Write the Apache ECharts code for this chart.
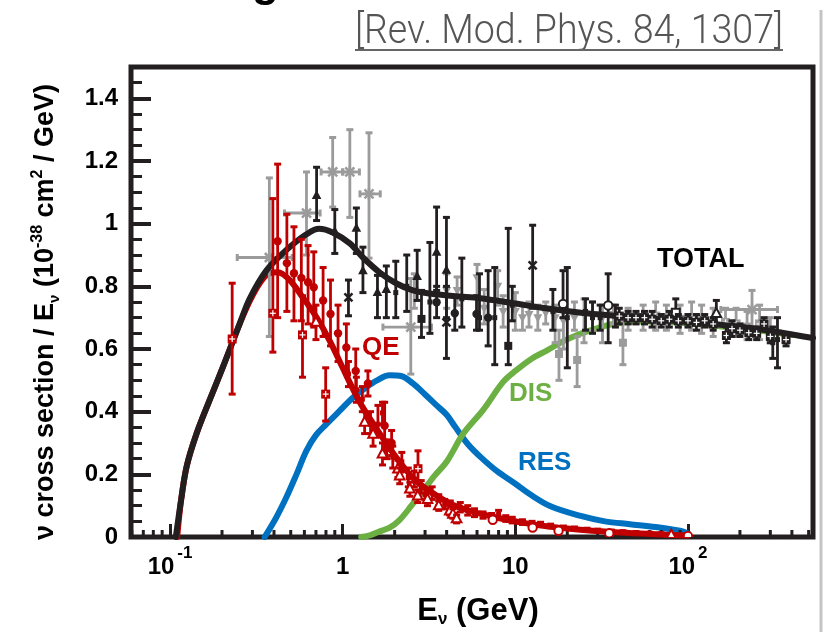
<!DOCTYPE html>
<html><head><meta charset="utf-8">
<script src="https://cdn.jsdelivr.net/npm/echarts@6/dist/echarts.min.js"></script>
<style>html,body{margin:0;padding:0;background:#fff}#c{width:825px;height:632px}</style>
</head><body><div id="c"></div>
<script>
// ---------- curves ----------
const totalE = [0.108,0.116,0.125,0.142,0.169,0.202,0.253,0.289,0.361,0.47,0.616,0.73,0.875,1.1,1.31,1.64,2.05,2.55,3.2,4.5,6.25,10,15,24,40,60,91,150,224,350,530];
const totalV = [0,0.12,0.227,0.328,0.435,0.541,0.68,0.76,0.85,0.915,0.966,0.984,0.972,0.937,0.892,0.844,0.809,0.787,0.777,0.768,0.762,0.745,0.73,0.716,0.705,0.697,0.69,0.678,0.668,0.652,0.635];
const qeE = [0.11,0.116,0.125,0.142,0.169,0.202,0.253,0.3,0.36,0.42,0.493,0.586,0.707,0.84,1.0,1.14,1.31,1.64,2.05,2.55,3.19,4.5,7.1,12.1,20.7,40,70,100];
const qeV = [0,0.12,0.227,0.328,0.435,0.541,0.68,0.77,0.835,0.845,0.82,0.765,0.70,0.627,0.54,0.475,0.413,0.33,0.253,0.189,0.147,0.099,0.067,0.042,0.026,0.014,0.008,0.005];
const resE = [0.353,0.41,0.471,0.54,0.616,0.70,0.804,0.95,1.148,1.35,1.57,1.87,2.2,2.55,3.0,3.5,4.0,4.5,5.3,6.3,7.8,10,12.1,16,23.6,33,46,65,90,100];
const resV = [0,0.06,0.126,0.2,0.275,0.325,0.36,0.40,0.445,0.475,0.499,0.516,0.513,0.49,0.455,0.42,0.39,0.35,0.297,0.255,0.211,0.17,0.137,0.098,0.068,0.05,0.041,0.032,0.02,0.012];
const disE = [1.28,1.45,1.64,1.87,2.14,2.5,2.9,3.4,4.0,5.0,6.5,8.5,10,12.5,15.2,19,23.6,30,36.7,50,70,100,150,250,400];
const disV = [0,0.006,0.018,0.03,0.055,0.1,0.145,0.195,0.24,0.33,0.405,0.495,0.53,0.57,0.595,0.625,0.648,0.667,0.68,0.688,0.688,0.682,0.673,0.66,0.645];

// ---------- data points: [E, value, low, high, (Elow, Ehigh)] ----------
const redCircles = [[0.42,0.944,0.70,1.19],[0.475,0.874,0.72,1.03],[0.522,0.842,0.69,0.99],[0.576,0.827,0.69,0.95],[0.63,0.813,0.68,0.93],[0.68,0.797,0.67,0.91],[0.77,0.755,0.64,0.86],[0.85,0.712,0.61,0.82],[0.94,0.65,0.56,0.74],[1.05,0.605,0.53,0.68],[1.19,0.53,0.47,0.60],[1.4,0.49,0.45,0.53],[1.75,0.355,0.275,0.43],[1.92,0.30,0.26,0.34]];
const redCrossSq = [[0.229,0.632,0.456,0.81],[0.394,0.714,0.59,1.08],[0.585,0.645,0.51,0.77],[0.797,0.456,0.37,0.54],[2.73,0.218,0.18,0.275]];
const redOTri = [[0.70,0.685,0.63,0.74],[1.34,0.366,0.33,0.40],[1.5,0.328,0.29,0.36],[1.7,0.265,0.23,0.30],[2.09,0.217,0.19,0.245],[2.14,0.195,0.17,0.22],[2.45,0.153,0.13,0.175],[2.72,0.131,0.11,0.15],[3.1,0.12,0.10,0.14],[3.6,0.1,0.085,0.115],[4.17,0.083,0.07,0.10],[4.35,0.073,0.06,0.09],[4.57,0.058,0.045,0.07],[80,0.006,0.003,0.009]];
const redSmall = [[1.08,0.52,0.48,0.56],[1.2,0.47,0.43,0.51],[1.3,0.44,0.40,0.48],[1.45,0.36,0.33,0.40],[1.6,0.36,0.32,0.42],[1.7,0.396,0.36,0.43],[1.8,0.28,0.25,0.31],[1.95,0.255,0.22,0.29],[2.2,0.24,0.21,0.27],[2.4,0.19,0.16,0.22],[2.6,0.185,0.16,0.21],[2.85,0.16,0.14,0.18],[3.0,0.135,0.12,0.155],[3.3,0.14,0.12,0.16],[3.6,0.118,0.10,0.135],[3.9,0.105,0.09,0.12],[4.2,0.10,0.085,0.115],[4.8,0.095,0.08,0.11],[5.3,0.085,0.07,0.10],[5.8,0.078,0.065,0.09],[6.5,0.07,0.06,0.08],[7.3,0.065,0.055,0.075],[8.0,0.072,0.06,0.085],[8.8,0.058,0.05,0.068],[9.6,0.055,0.045,0.063],[11,0.047,0.04,0.055],[12.5,0.043,0.036,0.05],[14,0.04,0.033,0.047],[16,0.035,0.03,0.041],[19,0.03,0.025,0.035],[22,0.027,0.022,0.032],[26,0.024,0.02,0.028],[30,0.021,0.017,0.025],[36,0.018,0.015,0.022],[42,0.016,0.013,0.02],[50,0.014,0.011,0.017],[60,0.012,0.01,0.015],[70,0.01,0.008,0.013]];
const redOCircles = [[7.4,0.055,0.05,0.06],[12.6,0.03,0.026,0.034],[17.8,0.02,0.017,0.023],[35,0.012,0.01,0.014],[100,0.003,0.002,0.004]];

const blackTri = [[0.706,1.09,1.01,1.18],[0.90,0.975,0.905,1.045],[1.2,0.985,0.905,1.05],[1.31,0.85,0.78,0.925],[1.59,0.78,0.70,0.835],[1.79,0.79,0.70,0.865],[2.7,0.831,0.755,0.915],[3.5,0.909,0.787,1.053],[3.99,0.851,0.70,1.02]];
const blackOTri = [[146,0.713,0.68,0.755]];
const blackCircle = [[3.5,0.749,0.70,0.80],[4.46,0.714,0.66,0.77],[5.96,0.712,0.66,0.77],[6.96,0.70,0.61,0.85]];
const blackSq = [[2.86,0.696,0.637,0.787],[9.1,0.61,0.55,0.985]];
const blackX = [[1.08,0.765,0.706,0.82],[3.99,0.685,0.57,0.80],[12.6,0.867,0.73,0.995]];
const blackOCircle = [[18.9,0.744,0.70,0.85],[34.5,0.739,0.62,0.84]];
const blackOSq = [[85,0.716,0.69,0.76]];
const blackBar = [[2.03,0.78,0.70,0.88],[2.35,0.80,0.72,0.90],[3.2,0.75,0.65,0.94],[4.9,0.76,0.67,0.89],[6.2,0.70,0.66,0.84],[7.6,0.70,0.55,0.86],[9.6,0.74,0.69,0.80],[16.5,0.72,0.66,0.79],[20,0.70,0.54,0.86],[25.5,0.72,0.66,0.76],[28,0.70,0.65,0.75],[31,0.70,0.66,0.74],[38,0.705,0.67,0.74],[310,0.62,0.57,0.67],[330,0.63,0.54,0.70]];
const blackXSq = [[40,0.705,0.68,0.73],[45,0.70,0.68,0.72],[50,0.70,0.68,0.72],[56,0.70,0.68,0.72],[62,0.695,0.67,0.72],[70,0.69,0.67,0.71],[78,0.695,0.67,0.72],[88,0.69,0.67,0.71],[100,0.69,0.67,0.71],[112,0.685,0.66,0.71],[125,0.69,0.67,0.71],[140,0.68,0.66,0.70],[167,0.643,0.62,0.67],[180,0.665,0.64,0.69],[200,0.66,0.64,0.68],[225,0.652,0.63,0.67],[250,0.65,0.63,0.67],[276,0.68,0.66,0.70],[300,0.64,0.62,0.66],[370,0.63,0.61,0.65]];

const grayStar = [[0.376,0.892,0.64,1.146,0.245,0.51],[0.617,1.034,0.90,1.165,0.46,0.74],[0.875,1.165,1.053,1.275,0.75,1.0],[1.1,1.165,1.02,1.30,1.0,1.25],[1.42,1.095,0.89,1.29,1.26,1.65],[2.48,0.67,0.52,0.825,1.71,3.27],[235,0.726,0.652,0.787,155,330]];
const grayDTri = [[2.6,0.787,0.73,0.84],[4.0,0.787,0.73,0.84],[4.6,0.787,0.74,0.83],[6.0,0.827,0.77,0.87],[7.9,0.80,0.74,0.85],[6.6,0.73,0.68,0.79],[8.5,0.72,0.67,0.77],[10,0.72,0.66,0.78],[11,0.70,0.66,0.74],[12,0.71,0.67,0.75],[13.5,0.70,0.66,0.74],[15,0.715,0.68,0.75],[17,0.70,0.62,0.74],[19,0.69,0.60,0.73],[22,0.70,0.66,0.75],[25,0.71,0.62,0.76],[28,0.705,0.66,0.75],[32,0.70,0.62,0.74],[37,0.71,0.68,0.74]];
const grayXSq = [[45,0.70,0.66,0.73],[55,0.70,0.66,0.74],[65,0.705,0.66,0.75],[75,0.70,0.66,0.74],[90,0.695,0.65,0.74],[105,0.70,0.66,0.75],[120,0.695,0.65,0.74],[140,0.68,0.64,0.73],[165,0.685,0.64,0.73],[190,0.68,0.64,0.73],[220,0.67,0.63,0.72],[260,0.68,0.63,0.74],[300,0.66,0.62,0.70]];
const graySq = [[17.9,0.584,0.50,0.66],[22.8,0.565,0.48,0.64],[42,0.62,0.55,0.69]];

// ---------- ticks ----------
const xMinor = [0.06,0.07,0.08,0.09,0.2,0.3,0.4,0.5,0.6,0.7,0.8,0.9,2,3,4,5,6,7,8,9,20,30,40,50,60,70,80,90,200,300,400,500];
const yLabelStep = 0.2;

const RED = '#c00000', BLACK = '#231f20', GRAY = '#9b9b9b', BLUE = '#0070c0', GREEN = '#6cb043';
const FONT = '"Liberation Sans", Arial, sans-serif';

function zipXY(a, b){ return a.map((x,i)=>[x,b[i]]); }

function marker(shape, x, y, color){
  const r = 4.2;
  switch(shape){
    case 'circle': return [{type:'circle', shape:{cx:x,cy:y,r:r}, style:{fill:color}}];
    case 'ocircle': return [{type:'circle', shape:{cx:x,cy:y,r:r}, style:{fill:'#fff', stroke:color, lineWidth:2}}];
    case 'tri': return [{type:'polygon', shape:{points:[[x,y-5.5],[x-4.8,y+3.5],[x+4.8,y+3.5]]}, style:{fill:color}}];
    case 'otri': return [{type:'polygon', shape:{points:[[x,y-5.5],[x-4.8,y+3.5],[x+4.8,y+3.5]]}, style:{fill:'#fff', stroke:color, lineWidth:2}}];
    case 'dtri': return [{type:'polygon', shape:{points:[[x,y+5],[x-4.5,y-3.5],[x+4.5,y-3.5]]}, style:{fill:color}}];
    case 'sq': return [{type:'rect', shape:{x:x-4,y:y-4,width:8,height:8}, style:{fill:color}}];
    case 'small': return [{type:'rect', shape:{x:x-2.5,y:y-2.5,width:5,height:5}, style:{fill:color}}];
    case 'osq': return [{type:'rect', shape:{x:x-4,y:y-4,width:8,height:8}, style:{fill:'#fff', stroke:color, lineWidth:2}}];
    case 'xsq': return [
      {type:'rect', shape:{x:x-4.5,y:y-4.5,width:9,height:9}, style:{fill:color}},
      {type:'line', shape:{x1:x-3,y1:y,x2:x+3,y2:y}, style:{stroke:'#fff', lineWidth:1.2}},
      {type:'line', shape:{x1:x,y1:y-3,x2:x,y2:y+3}, style:{stroke:'#fff', lineWidth:1.2}}];
    case 'x': return [
      {type:'line', shape:{x1:x-4,y1:y-4,x2:x+4,y2:y+4}, style:{stroke:color, lineWidth:2.5}},
      {type:'line', shape:{x1:x-4,y1:y+4,x2:x+4,y2:y-4}, style:{stroke:color, lineWidth:2.5}}];
    case 'star': return [
      {type:'line', shape:{x1:x-6,y1:y,x2:x+6,y2:y}, style:{stroke:color, lineWidth:2.5}},
      {type:'line', shape:{x1:x,y1:y-6,x2:x,y2:y+6}, style:{stroke:color, lineWidth:2.5}},
      {type:'line', shape:{x1:x-4.5,y1:y-4.5,x2:x+4.5,y2:y+4.5}, style:{stroke:color, lineWidth:2.5}},
      {type:'line', shape:{x1:x-4.5,y1:y+4.5,x2:x+4.5,y2:y-4.5}, style:{stroke:color, lineWidth:2.5}}];
  }
  return [];
}

function errSeries(name, data, color, shape, z){
  return {
    type:'custom', name: name, data: data, z: z || 5, clip: true,
    encode:{x:0, y:1},
    renderItem: function(params, api){
      const E = api.value(0), v = api.value(1), lo = api.value(2), hi = api.value(3);
      const c = api.coord([E, v]);
      const cl = api.coord([E, lo]), ch = api.coord([E, hi]);
      const kids = [];
      const lw = 2.8, cw = 3.5;
      kids.push({type:'line', shape:{x1:c[0],y1:cl[1],x2:c[0],y2:ch[1]}, style:{stroke:color, lineWidth:lw}});
      kids.push({type:'line', shape:{x1:c[0]-cw,y1:cl[1],x2:c[0]+cw,y2:cl[1]}, style:{stroke:color, lineWidth:3}});
      kids.push({type:'line', shape:{x1:c[0]-cw,y1:ch[1],x2:c[0]+cw,y2:ch[1]}, style:{stroke:color, lineWidth:3}});
      const el = api.value(4), eh = api.value(5);
      if (isFinite(el) && isFinite(eh) && el > 0 && eh > 0){
        const xl = api.coord([el, v]), xh = api.coord([eh, v]);
        kids.push({type:'line', shape:{x1:xl[0],y1:c[1],x2:xh[0],y2:c[1]}, style:{stroke:color, lineWidth:lw}});
        kids.push({type:'line', shape:{x1:xl[0],y1:c[1]-cw,x2:xl[0],y2:c[1]+cw}, style:{stroke:color, lineWidth:3}});
        kids.push({type:'line', shape:{x1:xh[0],y1:c[1]-cw,x2:xh[0],y2:c[1]+cw}, style:{stroke:color, lineWidth:3}});
      }
      marker(shape, c[0], c[1], color).forEach(k=>kids.push(k));
      return {type:'group', children:kids};
    }
  };
}

function curve(name, E, V, color, z){
  return {type:'line', name:name, data:zipXY(E,V), smooth:0.35, showSymbol:false, symbol:'none', z:z,
          lineStyle:{color:color, width:6, cap:'round', join:'round'}, silent:true, animation:false};
}

// title width scaling
const titleText = '[Rev. Mod. Phys. 84, 1307]';
const cv = document.createElement('canvas').getContext('2d');
cv.font = '300 40px Roboto';
const tw = cv.measureText(titleText).width || 470;
const titleScale = 428 / tw;

const chart = echarts.init(document.getElementById('c'), null, {renderer:'canvas'});
const option = {
  animation:false,
  backgroundColor:'#fff',
  grid:{left:131, top:67, right:12, bottom:95, show:true, borderColor:BLACK, borderWidth:5, backgroundColor:'transparent'},
  xAxis:{type:'log', logBase:10, min:0.0594, max:530,
    axisLine:{show:false}, splitLine:{show:false},
    axisTick:{show:true, inside:true, length:13, lineStyle:{color:BLACK, width:3}},
    axisLabel:{margin:8, formatter:function(v){
        const lg = Math.log10(v), e = Math.round(lg);
        if (Math.abs(lg-e) > 1e-6) return '';
        if (e === 0) return '{n|1}';
        if (e === 1) return '{n|10}';
        return '{n|10}{s|' + e + '}';
      },
      rich:{n:{fontSize:24, fontWeight:'bold', fontFamily:FONT, color:'#000', lineHeight:34, verticalAlign:'bottom'},
            s:{fontSize:17, fontWeight:'bold', fontFamily:FONT, color:'#000', lineHeight:34, verticalAlign:'top', padding:[0,0,0,3]}}}
  },
  yAxis:[
    {type:'value', min:0, max:1.5, interval:0.2, position:'left',
     axisLine:{show:false}, splitLine:{show:false},
     axisTick:{show:true, inside:true, length:20, lineStyle:{color:BLACK, width:4}},
     axisLabel:{margin:13, fontSize:24, fontWeight:'bold', fontFamily:FONT, color:'#000',
       formatter:function(v){ const r = Math.round(v/yLabelStep); return Math.abs(v - r*yLabelStep) < 1e-6 ? String(+v.toFixed(1)) : ''; }}},
    {type:'value', min:0, max:1.5, interval:0.05, position:'left',
     axisLine:{show:false}, splitLine:{show:false}, axisLabel:{show:false},
     axisTick:{show:true, inside:true, length:11, lineStyle:{color:BLACK, width:3}}}
  ],
  series:[
    {type:'custom', name:'xminor', data:xMinor.map(v=>[v,0]), z:3, silent:true,
     renderItem:function(params, api){ const p = api.coord([api.value(0), 0]);
       return {type:'line', shape:{x1:p[0],y1:p[1],x2:p[0],y2:p[1]-7}, style:{stroke:BLACK, lineWidth:3}}; }},
    curve('RES', resE, resV, BLUE, 2),
    curve('DIS', disE, disV, GREEN, 2),
    curve('QE', qeE, qeV, RED, 3),
    errSeries('gray-dtri', grayDTri, GRAY, 'dtri', 4),
    errSeries('gray-xsq', grayXSq, GRAY, 'xsq', 4),
    errSeries('gray-sq', graySq, GRAY, 'sq', 4),
    errSeries('gray-star', grayStar, GRAY, 'star', 4),
    curve('TOTAL', totalE, totalV, BLACK, 5),
    errSeries('black-bar', blackBar, BLACK, 'small', 6),
    errSeries('black-tri', blackTri, BLACK, 'tri', 6),
    errSeries('black-otri', blackOTri, BLACK, 'otri', 6),
    errSeries('black-circle', blackCircle, BLACK, 'circle', 6),
    errSeries('black-sq', blackSq, BLACK, 'sq', 6),
    errSeries('black-x', blackX, BLACK, 'x', 6),
    errSeries('black-ocircle', blackOCircle, BLACK, 'ocircle', 6),
    errSeries('black-osq', blackOSq, BLACK, 'osq', 6),
    errSeries('black-xsq', blackXSq, BLACK, 'xsq', 6),
    errSeries('red-small', redSmall, RED, 'small', 7),
    errSeries('red-circle', redCircles, RED, 'circle', 7),
    errSeries('red-xsq', redCrossSq, RED, 'xsq', 7),
    errSeries('red-otri', redOTri, RED, 'otri', 7),
    errSeries('red-ocircle', redOCircles, RED, 'ocircle', 7)
  ],
  graphic:[
    {type:'text', x:355, y:33, scaleX:titleScale, style:{text:titleText, font:'300 40px Roboto', fill:'#555', verticalAlign:'middle', align:'left'}},
    {type:'line', shape:{x1:355, y1:50, x2:783, y2:50}, style:{stroke:'#666', lineWidth:2}},
    {type:'text', x:252, y:6, style:{text:'g', font:'bold 44px "Liberation Sans", Arial', fill:'#000', verticalAlign:'bottom'}},
    {type:'line', shape:{x1:821, y1:10, x2:821, y2:632}, style:{stroke:'#c4c4c4', lineWidth:3}},
    {type:'text', x:657, y:260, style:{text:'TOTAL', font:'bold 27px ' + FONT, fill:'#000', verticalAlign:'middle'}},
    {type:'text', x:362, y:348, style:{text:'QE', font:'bold 26px ' + FONT, fill:RED, verticalAlign:'middle'}},
    {type:'text', x:509, y:394, style:{text:'DIS', font:'bold 26px ' + FONT, fill:GREEN, verticalAlign:'middle'}},
    {type:'text', x:518, y:463, style:{text:'RES', font:'bold 26px ' + FONT, fill:BLUE, verticalAlign:'middle'}},
    {type:'text', x:478, y:611, style:{text:'E{sub|ν} (GeV)', font:'bold 31px ' + FONT, fill:'#000', align:'center', verticalAlign:'middle',
       rich:{sub:{font:'bold 17px ' + FONT, fill:'#000', verticalAlign:'bottom', lineHeight:34}}}},
    {type:'text', x:46, y:312, rotation:Math.PI/2,
     style:{text:'ν cross section / E{sub|ν} (10{sup|-38} cm{sup|2} / GeV)', font:'bold 27px ' + FONT, fill:'#000', align:'center', verticalAlign:'middle',
       rich:{sub:{font:'bold 15px ' + FONT, fill:'#000', verticalAlign:'bottom', lineHeight:33},
             sup:{font:'bold 16px ' + FONT, fill:'#000', verticalAlign:'top', lineHeight:33}}}}
  ]
};
chart.setOption(option);
</script></body></html>
